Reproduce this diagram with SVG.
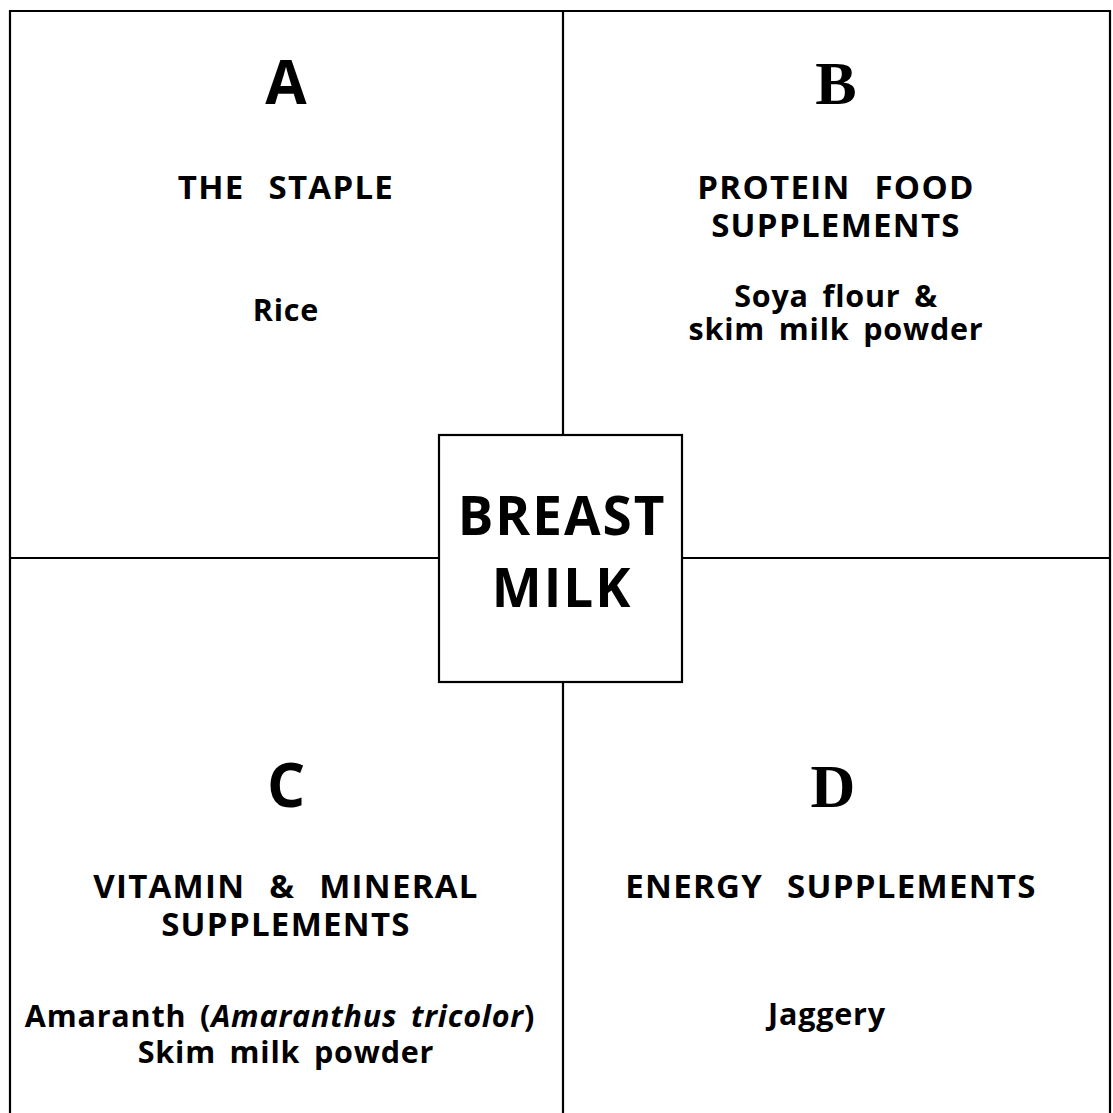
<svg xmlns="http://www.w3.org/2000/svg" width="1113" height="1113" viewBox="0 0 1113 1113">
<style>
.ln{stroke:#000;stroke-width:2.2;fill:none}
.t{font-family:"Open Sans","Lato",sans-serif;font-weight:700;fill:#000;text-anchor:middle}
.h{font-size:33px;letter-spacing:1.3px;word-spacing:14px}
.s{font-size:30.5px;letter-spacing:0.8px;word-spacing:5px}
.big{font-family:"Open Sans","Lato",sans-serif;font-weight:700;font-size:60px;text-anchor:middle;fill:#000}
.bigs{font-family:"Liberation Serif",serif;font-weight:700;font-size:62px;text-anchor:middle;fill:#000}
.c{font-size:53px;letter-spacing:2px}
</style>
<rect width="1113" height="1113" fill="#fff"/>
<g id="connectors">
<line class="ln" x1="9" y1="11" x2="1111" y2="11"/>
<line class="ln" x1="10" y1="10" x2="10" y2="1113"/>
<line class="ln" x1="1110" y1="10" x2="1110" y2="1113"/>
<line class="ln" x1="563" y1="11" x2="563" y2="435"/>
<line class="ln" x1="563" y1="682" x2="563" y2="1113"/>
<line class="ln" x1="10" y1="558" x2="439" y2="558"/>
<line class="ln" x1="682" y1="558" x2="1110" y2="558"/>
</g>
<g id="node-a">
<text class="big" x="286" y="104">A</text>
<text class="t h" x="286" y="199">THE STAPLE</text>
<text class="t s" x="286" y="321">Rice</text>
</g>
<g id="node-b">
<text class="bigs" x="836" y="104">B</text>
<text class="t h" x="836" y="199">PROTEIN FOOD</text>
<text class="t h" x="836" y="237">SUPPLEMENTS</text>
<text class="t s" x="836" y="307">Soya flour &amp;</text>
<text class="t s" x="836" y="340">skim milk powder</text>
</g>
<g id="node-c">
<text class="big" x="286" y="807">C</text>
<text class="t h" x="286" y="898">VITAMIN &amp; MINERAL</text>
<text class="t h" x="286" y="936">SUPPLEMENTS</text>
<text class="t s" x="280" y="1027">Amaranth (<tspan font-style="italic">Amaranthus tricolor</tspan>)</text>
<text class="t s" x="286" y="1063">Skim milk powder</text>
</g>
<g id="node-d">
<text class="bigs" x="833" y="807">D</text>
<text class="t h" x="831" y="898">ENERGY SUPPLEMENTS</text>
<text class="t s" x="827" y="1025">Jaggery</text>
</g>
<g id="node-center">
<rect class="ln" x="439" y="435" width="243" height="247"/>
<text class="t c" x="562" y="535">BREAST</text>
<text class="t c" x="562" y="607">MILK</text>
</g>
</svg>
